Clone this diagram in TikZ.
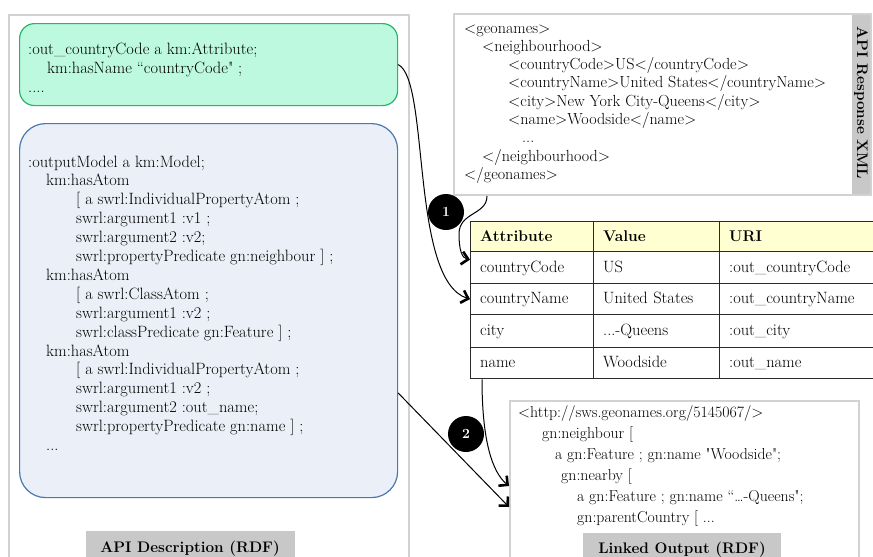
\documentclass[tikz,border=0pt]{standalone}
\usetikzlibrary{arrows.meta,calc}
\definecolor{outergray}{HTML}{D2D2D2}
\definecolor{labelgray}{HTML}{C8C8C8}
\definecolor{greenfill}{HTML}{BCF9DF}
\definecolor{greenline}{HTML}{22B866}
\definecolor{bluefill}{HTML}{EBF0F8}
\definecolor{blueline}{HTML}{4A78B2}
\definecolor{headfill}{HTML}{FFFFD2}
\definecolor{tableline}{HTML}{2A2A2A}
\begin{document}
\begin{tikzpicture}[x=1pt,y=-1pt,
  panel/.style={draw=outergray, line width=2pt, anchor=north west, inner sep=0pt},
  codeline/.style={anchor=base west, inner sep=0pt, font=\fontsize{16.4}{18.9}\selectfont},
  xmlline/.style={codeline, font=\fontsize{16.1}{18.3}\selectfont},
  outline/.style={codeline, font=\fontsize{15.8}{21}\selectfont},
  labelbox/.style={fill=labelgray, anchor=north, inner sep=0pt, text depth=20pt, font=\fontsize{15.3}{18}\selectfont\bfseries},
  cell/.style={draw=tableline, line width=1.3pt, anchor=north west, inner xsep=9.5pt, inner ysep=0pt, align=left, text height=12pt, text depth=3pt, font=\fontsize{16.4}{18.9}\selectfont},
  headcell/.style={cell, fill=headfill, font=\fontsize{15.5}{18}\selectfont\bfseries},
  badge/.style={circle, fill=black, text=white, minimum size=36pt, inner sep=0pt, font=\fontsize{14}{16}\selectfont\bfseries},
  link/.style={line width=1pt, -{Straight Barb[length=6.5pt,width=13pt,line width=2.6pt]}}
]
\useasboundingbox (0,0) rectangle (873,557);
\fill[white] (0,0) rectangle (873,557);
\clip (0,0) rectangle (873,557);

% ---- left panel: API description
\node[panel, minimum width=400pt, minimum height=570pt] (apipanel) at (8,14) {};
\node[anchor=north west, draw=greenline, fill=greenfill, line width=1.2pt, rounded corners=15pt,
      minimum width=378pt, minimum height=82pt, inner sep=0pt] (green) at (19,23) {};
\foreach [count=\k] \xx/\codetext in {28/{:out\_countryCode a km:Attribute;}, 47/{km:hasName “countryCode\textquotedbl{} ;}, 28/{....}}
  \node[codeline] (g\k) at ({\xx},{54+(\k-1)*19}) {\codetext};

\node[anchor=north west, draw=blueline, fill=bluefill, line width=1.2pt, rounded corners=26pt,
      minimum width=378pt, minimum height=374pt, inner sep=0pt] (blue) at (19,123) {};
\foreach [count=\k] \xx/\codetext in {
  28/{:outputModel a km:Model;},
  46/{km:hasAtom},
  76/{[ a swrl:IndividualPropertyAtom ;},
  76/{swrl:argument1 :v1 ;},
  76/{swrl:argument2 :v2;},
  76/{swrl:propertyPredicate gn:neighbour ] ;},
  46/{km:hasAtom},
  76/{[ a swrl:ClassAtom ;},
  76/{swrl:argument1 :v2 ;},
  76/{swrl:classPredicate gn:Feature ] ;},
  46/{km:hasAtom},
  76/{[ a swrl:IndividualPropertyAtom ;},
  76/{swrl:argument1 :v2 ;},
  76/{swrl:argument2 :out\_name;},
  76/{swrl:propertyPredicate gn:name ] ;},
  46/{...}}
  \node[codeline] (b\k) at ({\xx},{167+(\k-1)*18.9}) {\codetext};

\node[labelbox, minimum width=209pt, text height=21pt] (apilabel) at (190,531) {API Description (RDF)};

% ---- XML response panel
\node[anchor=north west, fill=labelgray, inner sep=0pt, minimum width=18pt, minimum height=181pt] (xmlband) at (852,13) {};
\node[panel, minimum width=417pt, minimum height=181pt] (xml) at (453,13) {};
\node[rotate=-90, inner sep=0pt, font=\fontsize{15.3}{18}\selectfont\bfseries] (xmllabel) at (861,103) {API Response XML};
\foreach [count=\k] \xx/\codetext in {
  464/{<geonames>},
  482/{<neighbourhood>},
  508/{<countryCode>US</countryCode>},
  508/{<countryName>United States</countryName>},
  508/{<city>New York City-Queens</city>},
  508/{<name>Woodside</name>},
  522/{...},
  482/{</neighbourhood>},
  464/{</geonames>}}
  \node[xmlline] (x\k) at ({\xx},{33+(\k-1)*18.3}) {\codetext};

% ---- table
\node[headcell, text width=104pt, minimum height=30pt] (h1) at (470,221) {Attribute};
\node[headcell, text width=107pt, minimum height=30pt] (h2) at (593,221) {Value};
\node[headcell, text width=142pt, minimum height=30pt] (h3) at (719,221) {URI};
\node[cell, text width=104pt, minimum height=32pt] (cc)  at (470,251) {countryCode};
\node[cell, text width=107pt, minimum height=32pt] (ccv) at (593,251) {US};
\node[cell, text width=142pt, minimum height=32pt] (ccu) at (719,251) {:out\_countryCode};
\node[cell, text width=104pt, minimum height=31pt] (cn)  at (470,283) {countryName};
\node[cell, text width=107pt, minimum height=31pt] (cnv) at (593,283) {United States};
\node[cell, text width=142pt, minimum height=31pt] (cnu) at (719,283) {:out\_countryName};
\node[cell, text width=104pt, minimum height=33pt] (ci)  at (470,314) {city};
\node[cell, text width=107pt, minimum height=33pt] (civ) at (593,314) {...-Queens};
\node[cell, text width=142pt, minimum height=33pt] (ciu) at (719,314) {:out\_city};
\node[cell, text width=104pt, minimum height=31pt] (nm)  at (470,347) {name};
\node[cell, text width=107pt, minimum height=31pt] (nmv) at (593,347) {Woodside};
\node[cell, text width=142pt, minimum height=31pt] (nmu) at (719,347) {:out\_name};

% ---- linked output panel
\node[panel, minimum width=349pt, minimum height=170pt] (lo) at (509,400) {};
\foreach [count=\k] \xx/\codetext in {
  518/{<http://sws.geonames.org/5145067/>},
  542/{gn:neighbour [},
  555/{a gn:Feature ; gn:name \textquotedbl Woodside\textquotedbl;},
  561/{gn:nearby [},
  577/{a gn:Feature ; gn:name “…-Queens\textquotedbl;},
  577/{gn:parentCountry [ ...}}
  \node[outline] (o\k) at ({\xx},{417+(\k-1)*21}) {\codetext};
\node[labelbox, minimum width=198pt, text height=20pt] (lolabel) at (682,533) {Linked Output (RDF)};

% ---- connectors
\draw[link] (green.east) .. controls (430,80) and (410,280) .. (cn.west);
\draw[link] ($(xml.south west)+(34,0)$) .. controls (487,215) and (459,212) .. (459,234)
            .. controls (459,250) and (462,258) .. ($(cc.west)+(0,-8)$);
\draw[link] ($(nm.south west)+(12,0)$) .. controls (482,440) and (492,472) .. (lo.west);
\draw[link] ($(blue.north east)+(0,270)$) -- ($(lo.west)+(0,21)$);

% ---- step badges
\node[badge] (s1) at (446,212) {1};
\node[badge] (s2) at (466,434) {2};
\end{tikzpicture}
\end{document}
